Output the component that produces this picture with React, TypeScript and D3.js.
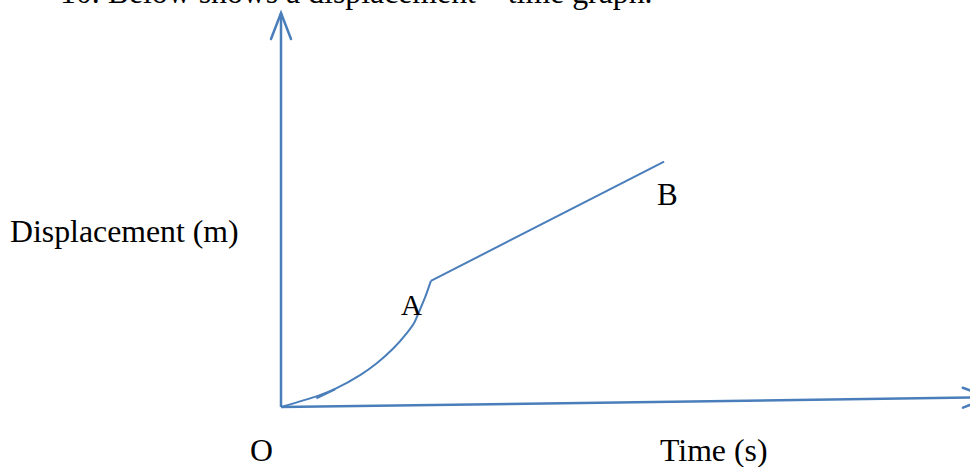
import { useEffect, useRef } from "react";
import * as d3 from "d3";

// curve O -> A (time in s, displacement in m)
const curveTime = [0, 0.54, 0.78, 1.14, 1.38, 1.62, 1.81, 1.92, 1.99, 2.08, 2.16];
const curveDisp = [0, 0.29, 0.46, 0.81, 1.11, 1.49, 1.87, 2.14, 2.42, 2.8, 3.2];
// straight part A -> B
const lineTime = [2.16, 5.52];
const lineDisp = [3.2, 6.23];
// little stroke near the start of the curve
const hookTime = [0.51, 0.78];
const hookDisp = [0.22, 0.45];
// axes ends
const yAxisTime = [0, 0];
const yAxisDisp = [0, 10];
const xAxisTime = [0, 10.2];
const xAxisDisp = [0, 0.245];

const labels = [
  { text: "10. Below shows a displacement \u2013 time graph.", x: 60, y: 3, size: 31.8 },
  { text: "Displacement (m)", x: 10, y: 242, size: 31.8 },
  { text: "O", x: 250, y: 461, size: 31.8 },
  { text: "Time (s)", x: 660, y: 461, size: 31.8 },
  { text: "A", x: 401, y: 315, size: 29 },
  { text: "B", x: 657, y: 205, size: 31 },
];

const blue = "#4a7ebb";

export default function App() {
  const ref = useRef<SVGSVGElement>(null);

  useEffect(() => {
    const svg = d3.select(ref.current);
    svg.selectAll("*").remove();

    const x = d3.scaleLinear().domain([0, 10]).range([281, 975]);
    const y = d3.scaleLinear().domain([0, 10]).range([407, 13]);

    const toPts = (ts: number[], ds: number[]) => ts.map((t, i) => [t, ds[i]] as [number, number]);
    const line = d3.line<[number, number]>().x((d) => x(d[0])).y((d) => y(d[1]));
    const smooth = d3.line<[number, number]>().x((d) => x(d[0])).y((d) => y(d[1])).curve(d3.curveCatmullRom);

    const g = svg.append("g");

    // axes
    g.append("path").attr("d", line(toPts(yAxisTime, yAxisDisp))).attr("stroke", blue).attr("stroke-width", 2.5).attr("fill", "none");
    g.append("path").attr("d", line(toPts(xAxisTime, xAxisDisp))).attr("stroke", blue).attr("stroke-width", 2.5).attr("fill", "none");

    // open arrow heads
    const arrow = (tip: [number, number], from: [number, number]) => {
      const tx = x(tip[0]), ty = y(tip[1]);
      const fx = x(from[0]), fy = y(from[1]);
      const ang = Math.atan2(ty - fy, tx - fx);
      const len = 26, half = 10;
      const bx = tx - len * Math.cos(ang), by = ty - len * Math.sin(ang);
      const nx = -Math.sin(ang) * half, ny = Math.cos(ang) * half;
      g.append("path")
        .attr("d", `M${bx + nx},${by + ny}L${tx},${ty}L${bx - nx},${by - ny}`)
        .attr("stroke", blue).attr("stroke-width", 2.5).attr("fill", "none")
        .attr("stroke-linejoin", "miter").attr("stroke-linecap", "round");
    };
    arrow([yAxisTime[1], yAxisDisp[1]], [yAxisTime[0], yAxisDisp[0]]);
    arrow([xAxisTime[1], xAxisDisp[1]], [xAxisTime[0], xAxisDisp[0]]);

    // graph
    g.append("path").attr("d", smooth(toPts(curveTime, curveDisp))).attr("stroke", blue).attr("stroke-width", 2).attr("fill", "none");
    g.append("path").attr("d", line(toPts(lineTime, lineDisp))).attr("stroke", blue).attr("stroke-width", 2).attr("fill", "none");
    g.append("path").attr("d", line(toPts(hookTime, hookDisp))).attr("stroke", blue).attr("stroke-width", 2).attr("fill", "none");

    // texts
    g.selectAll("text.lbl")
      .data(labels)
      .enter()
      .append("text")
      .attr("class", "lbl")
      .attr("x", (d) => d.x)
      .attr("y", (d) => d.y)
      .attr("font-size", (d) => d.size)
      .attr("font-family", "'Liberation Serif', 'Times New Roman', serif")
      .attr("fill", "#000")
      .text((d) => d.text);
  }, []);

  return (
    <svg
      ref={ref}
      width={970}
      height={467}
      style={{ position: "absolute", left: 0, top: 0, background: "#fff" }}
    />
  );
}
